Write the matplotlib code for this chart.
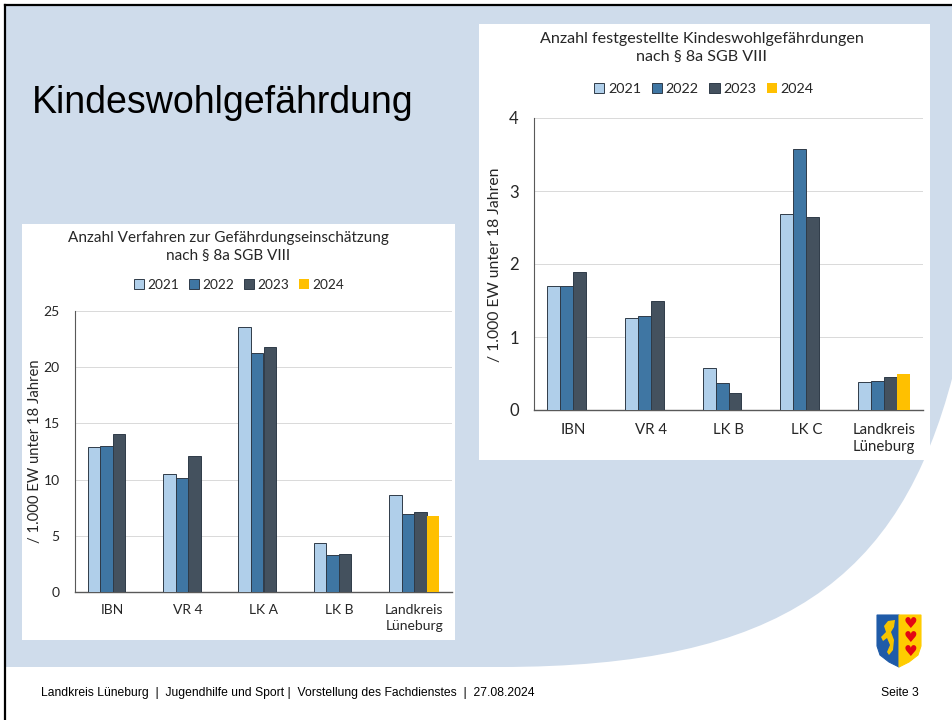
import numpy as np
import matplotlib.pyplot as plt
from matplotlib.patches import Rectangle, PathPatch, Polygon
from matplotlib.path import Path

# ============================================================
# DATA
# ============================================================

years = ["2021", "2022", "2023", "2024"]

left_title = "Anzahl Verfahren zur Gefährdungseinschätzung\nnach § 8a SGB VIII"
left_categories = ["IBN", "VR 4", "LK A", "LK B", "Landkreis\nLüneburg"]
left_2021 = [12.9, 10.5, 23.6, 4.4, 8.6]
left_2022 = [13.0, 10.1, 21.3, 3.3, 6.9]
left_2023 = [14.1, 12.1, 21.8, 3.4, 7.1]
left_2024 = [np.nan, np.nan, np.nan, np.nan, 6.8]
left_ticks = [0, 5, 10, 15, 20, 25]

right_title = "Anzahl festgestellte Kindeswohlgefährdungen\nnach § 8a SGB VIII"
right_categories = ["IBN", "VR 4", "LK B", "LK C", "Landkreis\nLüneburg"]
right_2021 = [1.70, 1.26, 0.58, 2.68, 0.38]
right_2022 = [1.70, 1.29, 0.37, 3.57, 0.40]
right_2023 = [1.89, 1.49, 0.23, 2.65, 0.45]
right_2024 = [np.nan, np.nan, np.nan, np.nan, 0.49]
right_ticks = [0, 1, 2, 3, 4]

y_label = "/ 1.000 EW unter 18 Jahren"
slide_title = "Kindeswohlgefährdung"
footer = ("Landkreis Lüneburg  |  Jugendhilfe und Sport |  Vorstellung des "
          "Fachdienstes  |  27.08.2024")
page = "Seite 3"

# ============================================================
# STYLE
# ============================================================

W, H = 953, 720
BLUE_BG = "#CFDCEB"
COLORS = ["#B0CFEA", "#3F76A3", "#44515E", "#FFC000"]
EDGES = ["#2F3B48", "#2F3B48", "#2F3B48", "none"]
TEXT_C = "#262626"
CHART_FONT = ["Lato", "DejaVu Sans"]
SLIDE_FONT = ["Liberation Sans", "DejaVu Sans"]
NARROW_FONT = ["Liberation Sans Narrow", "Liberation Sans", "DejaVu Sans"]

BAR_W = 0.166


def fig_rect(x0, y0, x1, y1):
    """pixel box (top-left origin) -> figure fraction rect"""
    return [x0 / W, (H - y1) / H, (x1 - x0) / W, (y1 - y0) / H]


# ============================================================
# BACKGROUND
# ============================================================

def draw_background(fig):
    bg = fig.add_axes([0, 0, 1, 1], zorder=0)
    bg.set_xlim(0, W)
    bg.set_ylim(H, 0)
    bg.axis("off")

    verts = [(5, 5), (W, 5), (W, 375),
             (953, 375), (900, 580), (780, 667), (500, 667),
             (5, 667), (5, 5)]
    codes = [Path.MOVETO, Path.LINETO, Path.LINETO,
             Path.LINETO, Path.CURVE4, Path.CURVE4, Path.CURVE4,
             Path.LINETO, Path.CLOSEPOLY]
    bg.add_patch(PathPatch(Path(verts, codes), facecolor=BLUE_BG,
                           edgecolor="none"))

    # slide frame (top + left)
    bg.plot([5, W], [5, 5], color="black", lw=1.6)
    bg.plot([5, 5], [5, H], color="black", lw=1.6)

    # white chart boxes
    bg.add_patch(Rectangle((22, 224), 433, 416, facecolor="white",
                           edgecolor="none"))
    bg.add_patch(Rectangle((479, 24), 451, 436, facecolor="white",
                           edgecolor="none"))

    bg.text(32, 113, slide_title, family=SLIDE_FONT, fontsize=27,
            va="baseline", ha="left")
    bg.text(41, 693, footer, family=NARROW_FONT, fontsize=8.7,
            va="center", ha="left")
    bg.text(919, 693, page, family=NARROW_FONT, fontsize=8.7,
            va="center", ha="right")

    draw_shield(bg)
    return bg


def draw_shield(ax):
    # left half blue, right half yellow, rounded bottom
    left = [(877, 615), (899, 615), (899, 667), (889, 662),
            (880, 655), (877, 646)]
    right = [(899, 615), (921, 615), (921, 646), (918, 655),
             (909, 662), (899, 667)]
    ax.add_patch(Polygon(left, closed=True, facecolor="#1F5BA8",
                         edgecolor="#1F5BA8", lw=0.8))
    ax.add_patch(Polygon(right, closed=True, facecolor="#FFCC00",
                         edgecolor="#FFCC00", lw=0.8))
    # rough lion
    lion = [(888, 621), (895, 620), (894, 627), (891, 632), (894, 640),
            (893, 650), (889, 655), (887, 652), (890, 645), (887, 638),
            (883, 641), (881, 637), (886, 632), (884, 626)]
    ax.add_patch(Polygon(lion, closed=True, facecolor="#F5C400",
                         edgecolor="none"))
    for yy in (624, 638, 652):
        ax.text(910, yy, "\u2665", color="#E30613", fontsize=11,
                ha="center", va="center", family="DejaVu Sans")


# ============================================================
# CHARTS
# ============================================================

def draw_chart(fig, rect, categories, series, ticks, tick_size, cat_size):
    ax = fig.add_axes(rect, zorder=2)
    ax.patch.set_alpha(0)
    x = np.arange(len(categories))
    for i, vals in enumerate(series):
        ax.bar(x + (i - 1.5) * BAR_W, vals, BAR_W, color=COLORS[i],
               edgecolor=EDGES[i], linewidth=0.7, label=years[i], zorder=3)

    ax.set_xlim(-0.5, len(categories) - 0.5)
    ax.set_ylim(ticks[0], ticks[-1])
    ax.set_yticks(ticks)
    ax.set_xticks(x)
    ax.set_xticklabels(categories, family=CHART_FONT, fontsize=cat_size,
                       linespacing=1.3)
    for lab in ax.get_yticklabels():
        lab.set_family(CHART_FONT)
        lab.set_fontsize(tick_size)
    ax.tick_params(axis="both", length=0, colors=TEXT_C)
    ax.tick_params(axis="x", pad=9)
    ax.tick_params(axis="y", pad=11)
    ax.grid(axis="y", color="#D9D9D9", lw=0.7, zorder=0)
    ax.spines[["top", "right"]].set_visible(False)
    ax.spines["left"].set_color("#595959")
    ax.spines["bottom"].set_color("#595959")
    ax.spines["left"].set_linewidth(0.8)
    ax.spines["bottom"].set_linewidth(1.0)
    return ax


def add_titles(fig, ax, title, tx, ty, lx, ly, label_xy, fsize, col_sp):
    fig.text(tx / W, 1 - ty / H, title, family=CHART_FONT, fontsize=fsize,
             ha="center", va="center", linespacing=1.4, color=TEXT_C)
    handles, labels = ax.get_legend_handles_labels()
    leg = fig.legend(handles, labels, loc="center",
                     bbox_to_anchor=(lx / W, 1 - ly / H), ncol=4,
                     frameon=False, handlelength=0.7, handleheight=0.7,
                     handletextpad=0.25, columnspacing=col_sp,
                     prop={"family": CHART_FONT, "size": fsize - 1.2})
    for t in leg.get_texts():
        t.set_color(TEXT_C)
    fig.text(label_xy[0] / W, 1 - label_xy[1] / H, y_label,
             family=CHART_FONT, fontsize=fsize - 0.3, rotation=90,
             ha="center", va="center", color=TEXT_C)


# ============================================================
# ENTRY POINT
# ============================================================

if __name__ == "__main__":
    fig = plt.figure(figsize=(W / 100, H / 100), dpi=100)
    draw_background(fig)

    ax_l = draw_chart(fig, fig_rect(75, 311, 452, 592), left_categories,
                      [left_2021, left_2022, left_2023, left_2024],
                      left_ticks, 10, 10)
    add_titles(fig, ax_l, left_title, 228, 247, 239, 285, (35, 451),
               11, 0.75)

    ax_r = draw_chart(fig, fig_rect(534, 118, 923, 410), right_categories,
                      [right_2021, right_2022, right_2023, right_2024],
                      right_ticks, 12, 10.8)
    add_titles(fig, ax_r, right_title, 702, 48, 704, 89, (495, 265),
               11.6, 0.75)

    fig.savefig("out.png", dpi=100)
